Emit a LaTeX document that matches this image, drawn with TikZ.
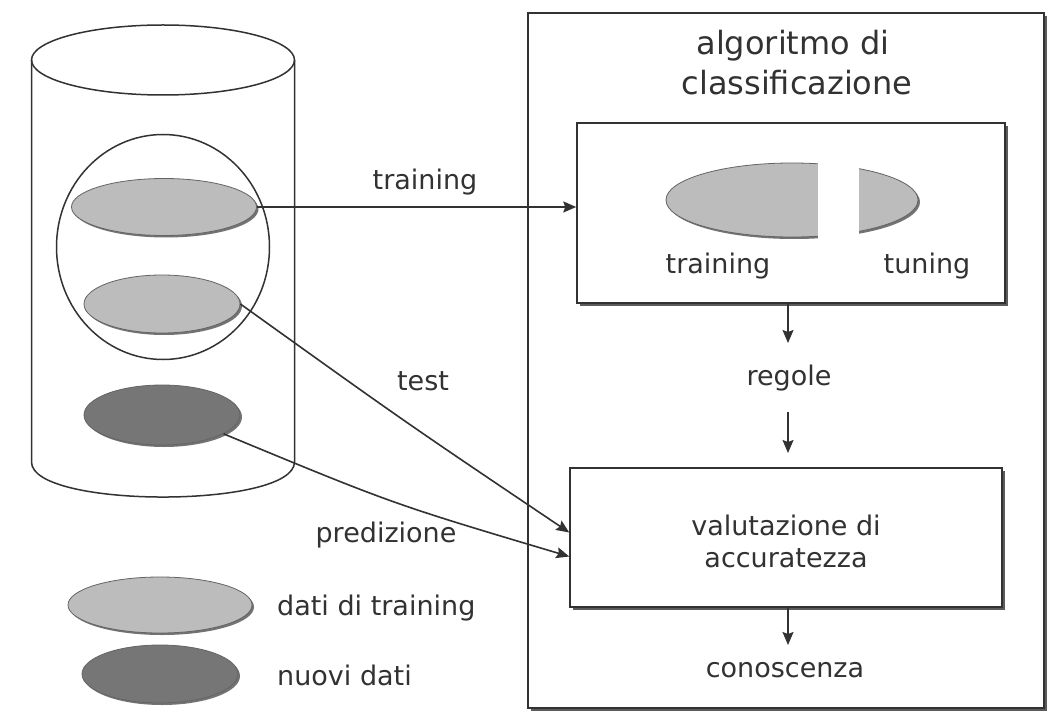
\documentclass[tikz,border=0pt]{standalone}
\usepackage{fontspec}
\setmainfont{DejaVu Sans}
\usetikzlibrary{shapes.geometric,arrows.meta,shadows}
\definecolor{ink}{RGB}{50,50,50}
\definecolor{lightfill}{RGB}{188,188,188}
\definecolor{darkfill}{RGB}{118,118,118}
\definecolor{edge}{RGB}{100,100,100}
\begin{document}
\begin{tikzpicture}[x=1pt,y=-1pt,
  every node/.style={text=ink},
  line/.style={draw=ink, line width=1.5pt},
  arr/.style={draw=ink, line width=1.6pt, -{Stealth[length=13pt,width=11pt,inset=2pt]}},
  disk/.style={ellipse, draw=edge, line width=0.8pt, inner sep=0pt,
    drop shadow={shadow xshift=2pt, shadow yshift=-2pt, fill=edge, opacity=0.9}},
  lbl/.style={font=\fontsize{27}{32}\selectfont, inner sep=0pt},
  ttl/.style={font=\fontsize{32}{40}\selectfont, inner sep=0pt},
  box/.style={rectangle, draw=ink, line width=1.5pt, fill=white, inner sep=0pt,
    drop shadow={shadow xshift=3pt, shadow yshift=-3pt, fill=ink!80, opacity=1}}
]
\useasboundingbox[fill=white] (0,0) rectangle (1048,719);

% cylinder
\draw[line] (163,60) ellipse [x radius=131.5, y radius=35];
\draw[line] (31.5,60) -- (31.5,462) .. controls (31.5,508.7) and (294.5,508.7) .. (294.5,462) -- (294.5,60);
\node[disk, fill=lightfill, minimum width=185, minimum height=57] (e1) at (164,207) {};
\node[disk, fill=lightfill, minimum width=156, minimum height=58] (e2) at (162,304) {};
\node[disk, fill=darkfill, minimum width=156, minimum height=60] (e3) at (162,415) {};
\node[ellipse, draw=ink, line width=1.5pt, minimum width=213, minimum height=225, inner sep=0pt] (sel) at (163,247) {};

% legend
\node[disk, fill=lightfill, minimum width=184, minimum height=56] (l1) at (160,605) {};
\node[disk, fill=darkfill, minimum width=156, minimum height=58] (l2) at (160,674) {};
\node[lbl, anchor=base west] (l1t) at (277,615) {dati di training};
\node[lbl, anchor=base west] (l2t) at (277,685) {nuovi dati};

% right side
\node[box, minimum width=516, minimum height=695] (outer) at (786,360.5) {};
\node[ttl, anchor=base] (t1) at (793,55) {algoritmo di};
\node[ttl, anchor=base] (t2) at (797,95) {classificazione};

\node[box, minimum width=428, minimum height=180] (box1) at (791,213) {};
\node[disk, fill=lightfill, minimum width=252, minimum height=74] (eb) at (792,200) {};
\fill[white] (818,150) rectangle (859,250);
\node[lbl, anchor=base] (ttr) at (718,273) {training};
\node[lbl, anchor=base] (ttu) at (927,273) {tuning};

\node[box, minimum width=432, minimum height=139] (box2) at (786,537.5) {};
\node[lbl, anchor=base] (v1) at (786,535) {valutazione di};
\node[lbl, anchor=base] (v2) at (786,567) {accuratezza};

\node[lbl, anchor=base] (reg) at (789,385) {regole};
\node[lbl, anchor=base] (con) at (785,677) {conoscenza};

\coordinate (r1) at (788,343);
\coordinate (r2) at (788,412);
\coordinate (r3) at (788,453);
\coordinate (r4) at (788,645);

\draw[arr] (box1.south -| r1) -- (r1);
\draw[arr] (r2) -- (r3);
\draw[arr] (box2.south -| r4) -- (r4);

% connectors
\draw[arr] (e1.east) -- (e1.east -| box1.west);
\node[lbl, anchor=base] (ltr) at (425,190) {training};
\coordinate (tip1) at ([yshift=5pt]box2.west);
\coordinate (tip2) at ([yshift=-19pt]box2.west);
\draw[arr] (e2.east) .. controls (405,422) .. (tip1);
\draw[arr] (e3.-17) .. controls (393,504) .. (tip2);
\node[lbl, anchor=base] (lte) at (423,390) {test};
\node[lbl, anchor=base] (lpr) at (386,542) {predizione};
\end{tikzpicture}
\end{document}
